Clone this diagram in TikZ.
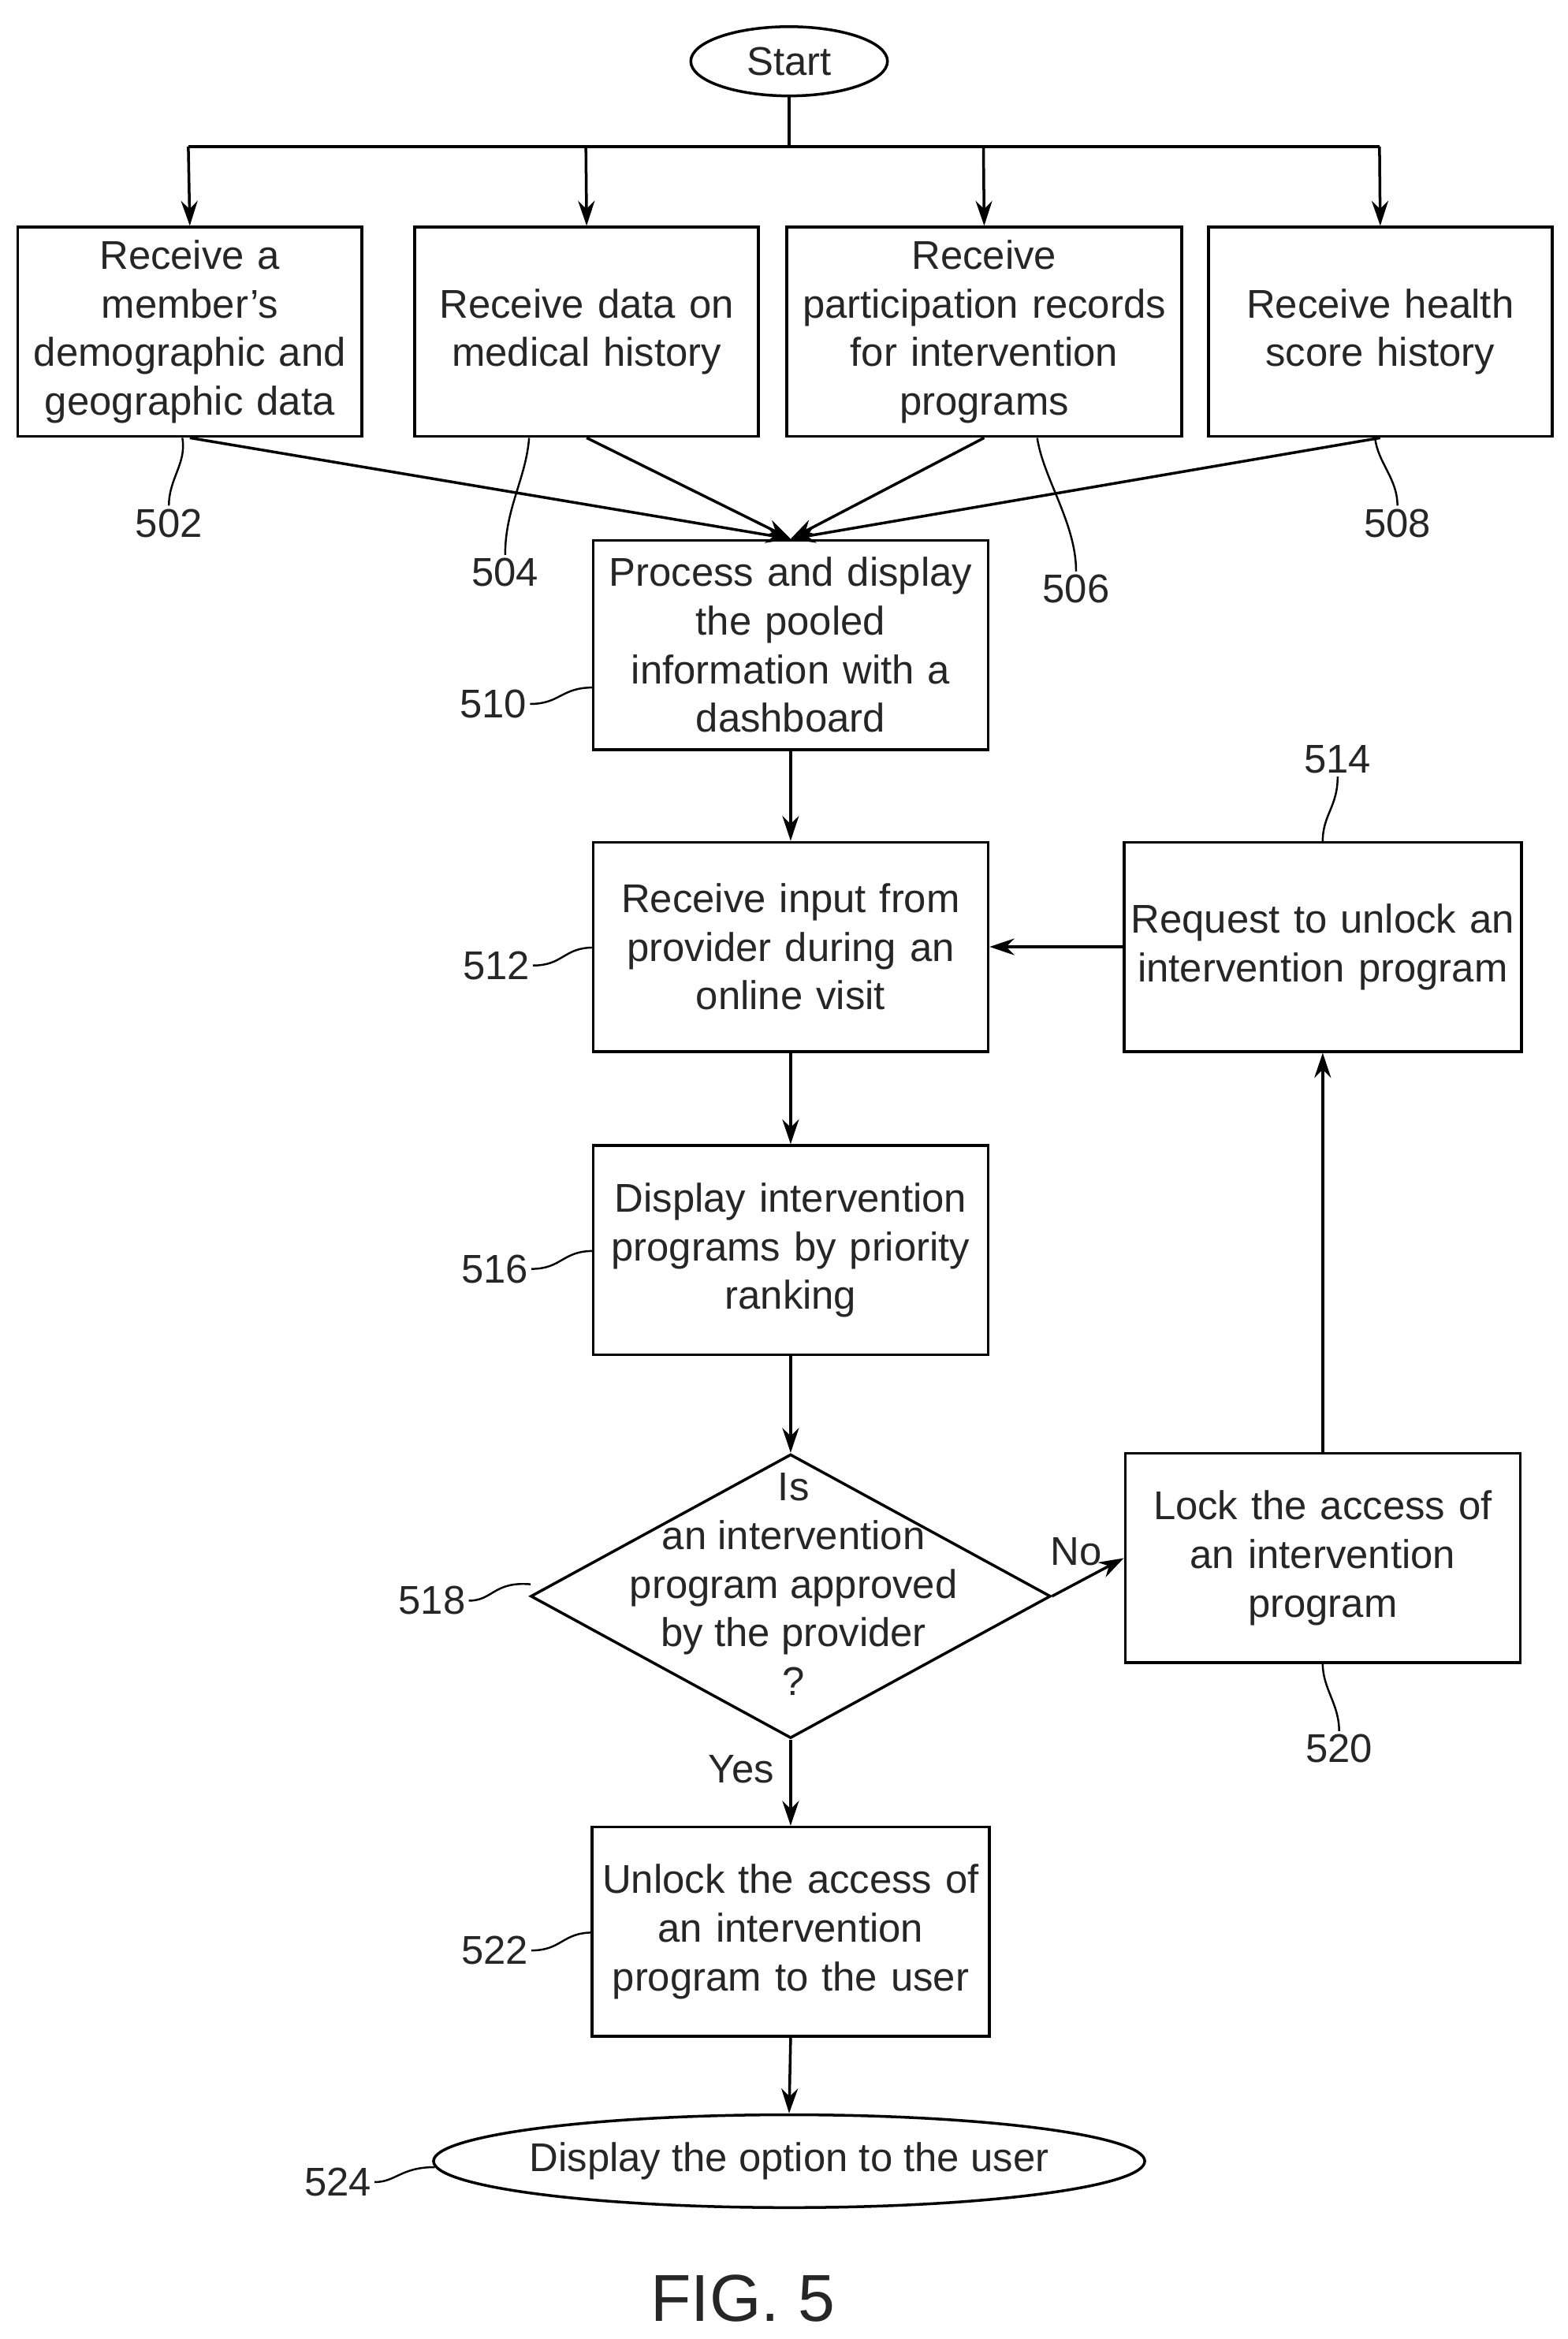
\documentclass[tikz,border=0pt]{standalone}
\usepackage{fontspec}
\setmainfont{Liberation Sans}
\usetikzlibrary{shapes.geometric,arrows.meta}
\begin{document}
\begin{tikzpicture}[x=0.019cm,y=-0.019cm,
  every node/.style={font=\fontsize{14.5}{17.6}\selectfont, text=black!85},
  box/.style={draw, line width=1pt, minimum height=2.66cm, align=center, inner sep=1pt},
  arr/.style={draw, line width=1pt, -{Stealth[length=9pt,width=6pt]}},
  lead/.style={draw, line width=0.7pt},
  lab/.style={inner sep=1pt}]
\useasboundingbox (0,0) rectangle (1049,1565);
\node[ellipse, draw, line width=1pt, minimum width=2.5cm, minimum height=0.88cm] (start) at (528,41) {Start};
\node[box, minimum width=4.33cm, text width=4.3cm] (b502) at (127,222) {Receive a\\member’s\\demographic and\\geographic data};
\node[box, minimum width=4.35cm, text width=4.3cm] (b504) at (392.5,222) {Receive data on\\medical history};
\node[box, minimum width=4.96cm, text width=4.95cm] (b506) at (658.5,222) {Receive\\participation records\\for intervention\\programs};
\node[box, minimum width=4.35cm, text width=4.3cm] (b508) at (923.5,222) {Receive health\\score history};
\node[box, minimum width=4.98cm, text width=4.95cm] (b510) at (529,431.5) {Process and display\\the pooled\\information with a\\dashboard};
\node[box, minimum width=4.98cm, text width=4.95cm] (b512) at (529,633.5) {Receive input from\\provider during an\\online visit};
\node[box, minimum width=4.98cm, text width=4.98cm] (b514) at (885,633.5) {Request to unlock an\\intervention program};
\node[box, minimum width=4.98cm, text width=4.95cm] (b516) at (529,836.5) {Display intervention\\programs by priority\\ranking};
\node[diamond, draw, line width=1pt, minimum width=6.61cm, minimum height=3.61cm, inner sep=0pt, align=center] (d518) at (529,1068) {};
\node[align=center] at (531,1060) {Is\\an intervention\\program approved\\by the provider\\?};
\node[box, minimum width=4.98cm, text width=4.95cm] (b520) at (885,1042.5) {Lock the access of\\an intervention\\program};
\node[box, minimum width=4.98cm, text width=4.98cm] (b522) at (529,1292.5) {Unlock the access of\\an intervention\\program to the user};
\node[ellipse, draw, line width=1pt, minimum width=9.04cm, minimum height=1.18cm, inner sep=0pt] (e524) at (528,1446) {};
\node at (528,1446) {Display the option to the user};
\node[font=\fontsize{24}{28}\selectfont] (fig) at (497,1538) {FIG. 5};
% connectors
\coordinate (top) at (528,98);
\draw[line width=1pt] (start.south) -- (top);
\draw[line width=1pt] (126,98) -- (923,98);
\path[arr] (126,98) -- (b502.north);
\path[arr] (392,98) -- (b504.north);
\path[arr] (658,98) -- (b506.north);
\path[arr] (923,98) -- (b508.north);
\path[arr] (b502.south) -- (b510.north);
\path[arr] (b504.south) -- (b510.north);
\path[arr] (b506.south) -- (b510.north);
\path[arr] (b508.south) -- (b510.north);
\path[arr] (b510) -- (b512);
\path[arr] (b512) -- (b516);
\path[arr] (b516) -- (d518.north);
\path[arr] (d518.south) -- (b522.north);
\path[arr] (d518.east) -- (b520.west);
\path[arr] (b520.north) -- (b514.south);
\path[arr] (b514.west) -- (b512.east);
\path[arr] (b522.south) -- (e524.north);
\node at (496,1184) {Yes};
\node at (720,1038) {No};
% reference labels
\node[lab] (l502) at (113,350) {502};
\draw[lead] (l502.north) .. controls (113,320) and (125,310) .. (122,293);
\node[lab] (l504) at (338,383) {504};
\draw[lead] (l504.north) .. controls (338,340) and (352,320) .. (354,293);
\node[lab] (l506) at (720,394) {506};
\draw[lead] (l506.north) .. controls (720,350) and (698,320) .. (694,293);
\node[lab] (l508) at (935,350) {508};
\draw[lead] (l508.north) .. controls (935,320) and (922,310) .. (920,293);
\node[lab] (l510) at (330,471) {510};
\draw[lead] (l510.east) .. controls (375,471) and (375,460) .. (397,460);
\node[lab] (l512) at (332,646) {512};
\draw[lead] (l512.east) .. controls (377,646) and (377,634) .. (397,634);
\node[lab] (l514) at (895,508) {514};
\draw[lead] (l514.south) .. controls (895,540) and (885,545) .. (885,563);
\node[lab] (l516) at (331,849) {516};
\draw[lead] (l516.east) .. controls (376,849) and (376,837) .. (397,837);
\node[lab] (l518) at (289,1071) {518};
\draw[lead] (l518.east) .. controls (330,1071) and (330,1058) .. (355,1060);
\node[lab] (l520) at (896,1170) {520};
\draw[lead] (l520.north) .. controls (896,1140) and (885,1130) .. (885,1113);
\node[lab] (l522) at (331,1305) {522};
\draw[lead] (l522.east) .. controls (376,1305) and (376,1293) .. (397,1293);
\node[lab] (l524) at (226,1460) {524};
\draw[lead] (l524.east) .. controls (265,1460) and (268,1450) .. (291,1450);
\end{tikzpicture}
\end{document}
